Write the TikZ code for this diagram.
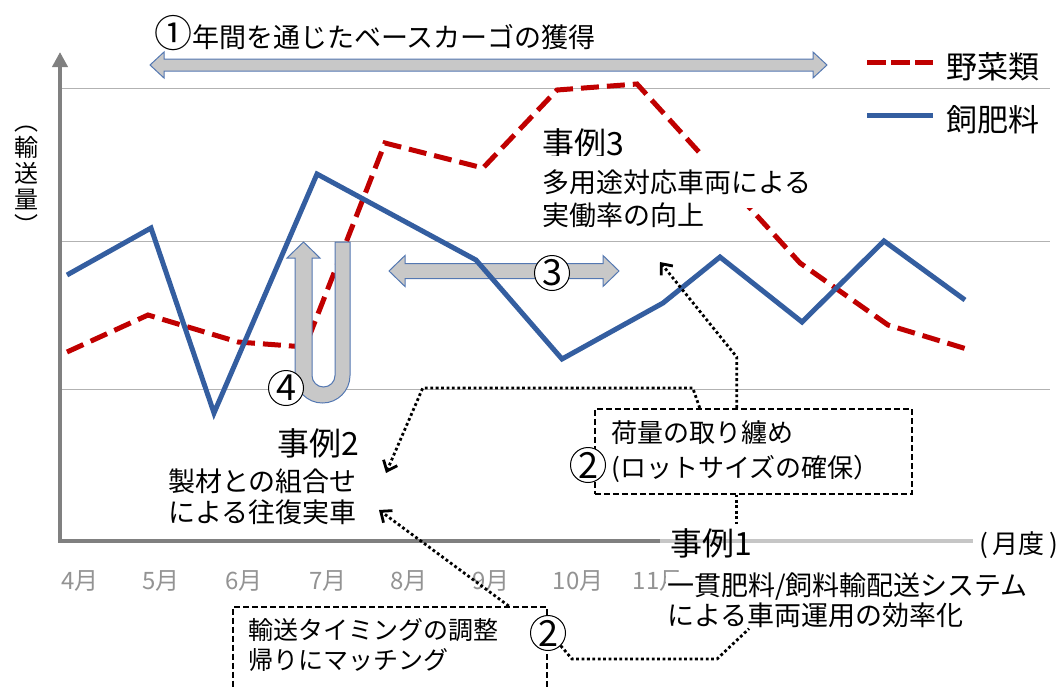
\documentclass[tikz,border=0pt]{standalone}
\usepackage{fontspec}
\setmainfont{Noto Sans CJK JP}
\usetikzlibrary{arrows.meta}
\definecolor{vegred}{RGB}{192,0,0}
\definecolor{feedblue}{RGB}{52,94,160}
\definecolor{arrowgray}{RGB}{200,200,200}
\definecolor{edgeblue}{RGB}{84,120,178}
\begin{document}
\begin{tikzpicture}[x=1pt, y=-1pt,
    gridline/.style={gray!60, line width=1pt},
    axisline/.style={gray, line width=4pt},
    veg/.style={vegred, line width=5pt, dash pattern=on 18pt off 8pt},
    feed/.style={feedblue, line width=5pt},
    fat/.style={fill=arrowgray, draw=edgeblue, line width=1pt},
    conn/.style={line width=2.8pt, dash pattern=on 2.8pt off 2.6pt, >={Straight Barb[length=9pt,width=15pt]}},
    dbox/.style={draw, line width=1.5pt, dash pattern=on 6pt off 3pt, align=left},
    num/.style={circle, draw, line width=1pt, fill=white, inner sep=0pt, minimum size=35pt, font=\fontsize{36}{36}\selectfont},
    head/.style={inner sep=0pt, font=\fontsize{32}{36}\selectfont},
    txt/.style={inner sep=1pt, font=\fontsize{27}{31}\selectfont},
    mon/.style={text=gray!85, font=\fontsize{24}{26}\selectfont}]
  \useasboundingbox (0,0) rectangle (1063,686);
  \clip (0,0) rectangle (1063,686);
  \foreach \y in {88,241,389} \draw[gridline] (60,\y) -- (1050,\y);
  \draw[axisline, -{Triangle[length=15pt,width=15pt]}] (660,541) -- (60,541) -- (60,52);
  \draw[axisline, gray!45] (660,541) -- (973,541);
  \draw[veg] (67,352) -- (148,315) -- (238,342) -- (305,347) -- (385,143) -- (483,168) -- (557,90) -- (637,84) -- (800,263) -- (888,325) -- (970,350);
  \draw[fat] (150,65) -- (164,52) -- (164,59) -- (813,59) -- (813,52) -- (827,65) -- (813,78) -- (813,71) -- (164,71) -- (164,78) -- cycle;
  \draw[fat] (389,271) -- (405,255.5) -- (405,263.5) -- (603,263.5) -- (603,255.5) -- (619,271) -- (603,286.5) -- (603,278.5) -- (405,278.5) -- (405,286.5) -- cycle;
  \draw[fat] (312,258) -- (320,258) -- (303.5,242) -- (287,258) -- (295,258) -- (295,375.5) arc[start angle=180, end angle=0, radius=27.5] -- (350,242) -- (335,242) -- (335,375.5) arc[start angle=0, end angle=180, radius=11.5] -- cycle;
  \draw[feed] (67,275) -- (151,228) -- (214,413) -- (317,174) -- (476,260) -- (562,359) -- (663,303) -- (720,257) -- (802,322) -- (884,241) -- (965,300);
  \node[anchor=west, inner sep=0pt, font=\fontsize{31}{31}\selectfont] (L1) at (946,67) {野菜類};
  \node[anchor=west, inner sep=0pt, font=\fontsize{31}{31}\selectfont] (L2) at (946,120) {飼肥料};
  \draw[veg, dash pattern=on 19pt off 5pt] (867,62) -- (933,62);
  \draw[feed] (867,115) -- (933,115);
  \node[anchor=west, inner sep=0pt, font=\fontsize{27}{27}\selectfont] (T1) at (154,33) {{\fontsize{38}{38}\selectfont ①}年間を通じたベースカーゴの獲得};
  \node[align=center, inner sep=0pt, font=\fontsize{24}{26}\selectfont] (Y) at (26,180) {︵\\輸\\送\\量\\︶};
  \node[head, anchor=west] (J3) at (542,143) {事例3};
  \node[txt, anchor=west, fill=white, inner ysep=13pt, font=\fontsize{27}{33}\selectfont] (D3) at (541,182) {多用途対応車両による};
  \node[txt, anchor=west, font=\fontsize{27}{33}\selectfont] (D3b) at (541,215) {実働率の向上};
  \node[head, anchor=east] (J2) at (359,443) {事例2};
  \node[txt, anchor=east, align=right] (D2) at (358,497) {製材との組合せ\\による往復実車};
  \node[head, anchor=west] (J1) at (670,543) {事例1};
  \foreach \x/\m in {80/4,161/5,244/6,328/7,409/8,491/9,578/10,658/11}
    \node[mon] (M\m) at (\x,581) {\m 月};
  \node[txt, anchor=west, align=left, fill=white, font=\fontsize{27}{30}\selectfont] (D1) at (666,600) {一貫肥料/飼料輸配送システム\\による車両運用の効率化};
  \node[txt, font=\fontsize{26}{26}\selectfont] (U) at (1019,545) {(\,月度\,)};
  \node[dbox, anchor=north west, text width=283pt, inner xsep=17pt, minimum height=85pt, font=\fontsize{26}{35}\selectfont] (B1) at (594,408) {荷量の取り纏め\\(ロットサイズの確保）};
  \node[dbox, anchor=north west, text width=282pt, inner xsep=16pt, inner ysep=12pt, font=\fontsize{25}{30}\selectfont] (B2) at (232,606) {輸送タイミングの調整\\帰りにマッチング\\[30pt]\mbox{}};
  \node[num] (N4) at (286,388) {4};
  \node[num] (N3) at (552,273) {3};
  \node[num] (N2a) at (588,465) {2};
  \node[num] (N2b) at (548,633) {2};
  \coordinate (A3) at (660,262);
  \coordinate (A2) at (386,473);
  \coordinate (A2b) at (379,510);
  \draw[conn, ->] ([xshift=-16.5pt]B1.north) -- ++(0,-51) -- (A3);
  \draw[conn] ([xshift=-16.5pt]B1.south) -- ++(0,32);
  \draw[conn, ->] ([xshift=-53.5pt]B1.north) -- ++(-7,-20) -- ++(-270,0) -- (A2);
  \draw[conn, ->] ([xshift=119pt]B2.north) -- (A2b);
  \draw[conn] (N2b.-45) -- (572,659) -- (717,659) -- ([xshift=83pt]D1.south west);
\end{tikzpicture}
\end{document}
